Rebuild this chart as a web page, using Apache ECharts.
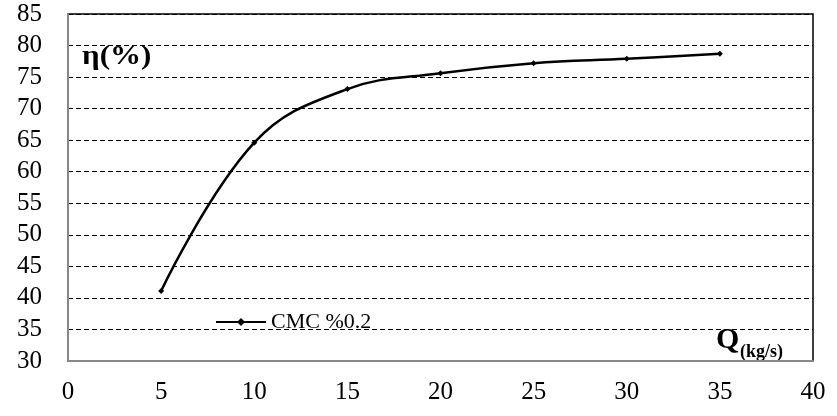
<!DOCTYPE html>
<html>
<head>
<meta charset="utf-8">
<script src="https://cdn.jsdelivr.net/npm/echarts@6/dist/echarts.min.js"></script>
<style>html,body{margin:0;padding:0;background:#fff}#c{width:837px;height:416px}</style>
</head>
<body>
<div id="c"></div>
<script>
const xValues = [5, 10, 15, 20, 25, 30, 35];
const etaValues = [41.1, 64.6, 73.1, 75.6, 77.2, 77.9, 78.7];
const seriesName = 'CMC %0.2';
const yLabel = 'η(%)';
const xLabelMain = 'Q';
const xLabelSub = '(kg/s)';

const chart = echarts.init(document.getElementById('c'));
const serif = '"Liberation Serif", "Times New Roman", serif';
chart.setOption({
  animation: false,
  backgroundColor: '#fff',
  grid: { left: 68, right: 24, top: 14, bottom: 55, show: true, borderColor: '#000', borderWidth: 1.5, backgroundColor: 'transparent' },
  legend: {
    left: 210, top: 306,
    itemWidth: 50, itemHeight: 10,
    data: [seriesName],
    textStyle: { fontFamily: serif, fontSize: 22, color: '#000' }
  },
  xAxis: {
    type: 'value', min: 0, max: 40, interval: 5,
    axisLine: { show: true, lineStyle: { color: '#888', width: 2 } },
    axisTick: { show: false },
    splitLine: { show: false },
    axisLabel: { margin: 19, fontFamily: serif, fontSize: 25, color: '#000' }
  },
  yAxis: {
    type: 'value', min: 30, max: 85, interval: 5,
    axisLine: { show: true, lineStyle: { color: '#888', width: 2 } },
    axisTick: { show: false },
    splitLine: { show: true, lineStyle: { color: '#000', type: [5, 3], width: 1 } },
    axisLabel: { margin: 26, fontFamily: serif, fontSize: 25, color: '#000' }
  },
  series: [{
    name: seriesName,
    type: 'line',
    smooth: 0.4,
    data: xValues.map((x, i) => [x, etaValues[i]]),
    symbol: 'diamond', symbolSize: 6,
    lineStyle: { color: '#000', width: 2.5 },
    itemStyle: { color: '#000' }
  }],
  graphic: [
    { type: 'text', left: 82, top: 44, scaleX: 1.15, style: { text: yLabel, font: 'bold 27px ' + serif, fill: '#000' } },
    { type: 'text', left: 716, top: 325, style: { text: xLabelMain, font: 'bold 30px ' + serif, fill: '#000' } },
    { type: 'text', left: 740, top: 343, style: { text: xLabelSub, font: 'bold 18px ' + serif, fill: '#000' } }
  ]
});
</script>
</body>
</html>
